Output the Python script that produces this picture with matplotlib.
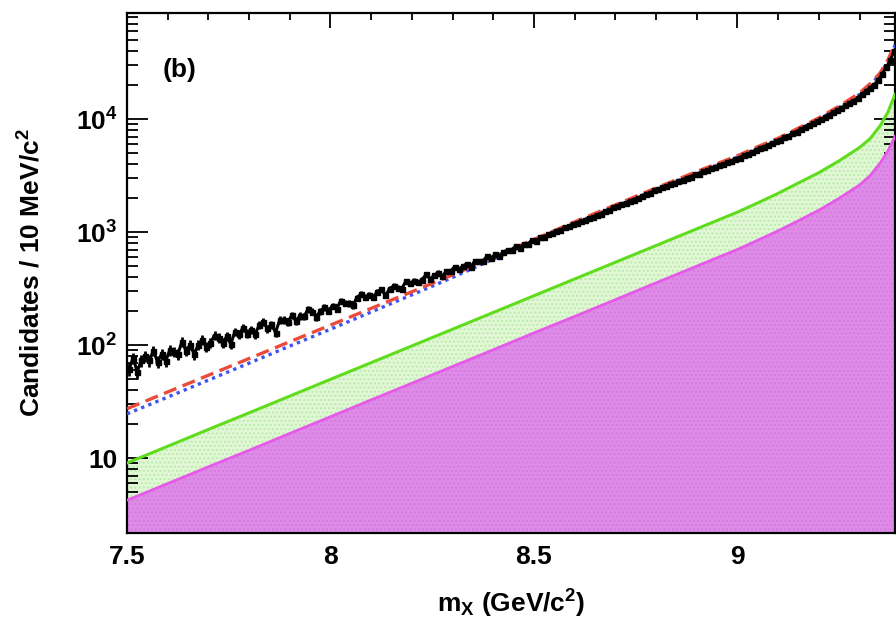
import numpy as np
import matplotlib
matplotlib.use("Agg")
import matplotlib.pyplot as plt
from matplotlib.ticker import FixedLocator, FixedFormatter, NullFormatter

plt.rcParams['font.family'] = ['Liberation Sans', 'DejaVu Sans']
plt.rcParams['font.weight'] = 'bold'
plt.rcParams['mathtext.fontset'] = 'custom'
plt.rcParams['mathtext.rm'] = 'Liberation Sans:bold'
plt.rcParams['mathtext.it'] = 'Liberation Sans:bold'
plt.rcParams['mathtext.bf'] = 'Liberation Sans:bold'
plt.rcParams['mathtext.default'] = 'regular'

# ---- data: candidates per 10 MeV bin, starting at 7.50 GeV ----
bin_lo = 7.50
bin_width = 0.01
counts = [
    61, 77, 58, 73, 80, 73, 89, 71, 83, 72,
    90, 87, 83, 107, 89, 100, 83, 100, 111, 96,
    105, 121, 116, 104, 119, 102, 131, 125, 142, 126,
    136, 125, 151, 160, 140, 152, 129, 166, 166, 161,
    183, 163, 181, 179, 208, 197, 178, 199, 216, 202,
    222, 209, 246, 237, 233, 225, 263, 283, 264, 277,
    266, 296, 311, 275, 313, 333, 320, 315, 366, 353,
    369, 358, 379, 423, 382, 417, 438, 408, 453, 452,
    492, 466, 500, 523, 491, 559, 553, 557, 613, 593,
    635, 610, 667, 693, 692, 753, 728, 780, 782, 852,
    841, 895, 906, 962, 971, 1027, 1040, 1101, 1119, 1180,
    1190, 1256, 1271, 1340, 1357, 1428, 1455, 1540, 1566, 1655,
    1684, 1774, 1805, 1895, 1931, 2018, 2063, 2172, 2221, 2338,
    2385, 2501, 2552, 2670, 2724, 2840, 2896, 3031, 3095, 3232,
    3290, 3444, 3518, 3676, 3752, 3915, 4001, 4174, 4270, 4458,
    4545, 4766, 4890, 5125, 5280, 5526, 5680, 5930, 6100, 6380,
    6570, 6900, 7120, 7480, 7745, 8130, 8420, 8835, 9170, 9640,
    9960, 10500, 10930, 11510, 11990, 12640, 13170, 13890, 14520, 15340,
    16560, 17650, 18760, 20050, 21960, 24950, 28560, 32950, 40100,
]

# ---- fit components, evaluated at these masses (GeV/c^2) ----
fit_mass = [7.50, 7.60, 7.70, 7.80, 7.90, 8.00, 8.10, 8.20, 8.30, 8.40,
            8.50, 8.60, 8.70, 8.80, 8.90, 9.00, 9.05, 9.10, 9.15, 9.20,
            9.25, 9.30, 9.325, 9.35, 9.37, 9.387]
fit_total = [27.3, 38.4, 54.0, 75.9, 107, 150, 211, 296, 417, 600,
             860, 1230, 1738, 2455, 3428, 4732, 5689, 6761, 8318, 10233,
             13032, 16982, 20417, 25410, 33500, 46500]
fit_background = [24.6, 34.6, 48.9, 69.1, 97.9, 138, 196, 278, 396, 576,
                  834, 1193, 1686, 2381, 3325, 4590, 5518, 6558, 8068, 9926,
                  12641, 16473, 19804, 24648, 32495, 45105]
fit_green = [9.04, 12.7, 17.9, 25.1, 35.3, 49.7, 69.8, 98.2, 138, 194,
             273, 384, 540, 759, 1067, 1500, 1810, 2200, 2720, 3350,
             4270, 5600, 6650, 8650, 11600, 16500]
fit_magenta = [4.23, 5.94, 8.36, 11.7, 16.5, 23.2, 32.7, 45.9, 64.6, 90.8,
               128, 179, 252, 355, 499, 701, 846, 1025, 1260, 1560,
               1990, 2610, 3130, 4050, 5250, 7000]

xticks = [7.5, 8.0, 8.5, 9.0]
xtick_labels = ['7.5', '8', '8.5', '9']
yticks = [10, 100, 1000, 10000]
ytick_labels = ['10', r'$10^{2}$', r'$10^{3}$', r'$10^{4}$']

x_range = (7.5, 9.387)
y_range = (2.17, 86700)

fig = plt.figure(figsize=(8.96, 6.22), dpi=100)
ax = fig.add_axes([127 / 896, 1 - 533 / 622, (895 - 127) / 896, (533 - 13) / 622])
ax.set_yscale('log')

ymin = y_range[0]
ax.fill_between(fit_mass, ymin, fit_green, facecolor='#e2f7d6', edgecolor='#b9ecaa',
                hatch='....', linewidth=0, zorder=1)
ax.fill_between(fit_mass, ymin, fit_magenta, facecolor='#df8ce9', edgecolor='#d67be0',
                hatch='....', linewidth=0, zorder=2)
ax.plot(fit_mass, fit_magenta, color='#e55ae8', lw=2.0, zorder=3)
ax.plot(fit_mass, fit_green, color='#5fdc1c', lw=2.2, zorder=3)
ax.plot(fit_mass, fit_background, color='#3d55f0', lw=2.4,
        linestyle=(0, (1.0, 1.3)), zorder=4)
ax.plot(fit_mass, fit_total, color='#ec4b3a', lw=2.4,
        linestyle=(0, (4, 2)), zorder=5)

counts_arr = np.array(counts, dtype=float)
centers = bin_lo + bin_width * (np.arange(len(counts_arr)) + 0.5)
ax.errorbar(centers, counts_arr, xerr=bin_width / 2, yerr=np.sqrt(counts_arr),
            fmt='s', ms=3.6, color='black', elinewidth=2.0, capsize=0, zorder=6)
ax.plot(centers, counts_arr, color='black', lw=2.2, zorder=6)

ax.set_xlim(*x_range)
ax.set_ylim(*y_range)

ax.xaxis.set_major_locator(FixedLocator(xticks))
ax.xaxis.set_major_formatter(FixedFormatter(xtick_labels))
ax.xaxis.set_minor_locator(FixedLocator(np.arange(7.5, 9.39, 0.1)))
ax.yaxis.set_major_locator(FixedLocator(yticks))
ax.yaxis.set_major_formatter(FixedFormatter(ytick_labels))
ax.yaxis.set_minor_locator(FixedLocator(
    [m * 10.0 ** e for e in range(0, 5) for m in range(2, 10) if m * 10.0 ** e < y_range[1]]))
ax.yaxis.set_minor_formatter(NullFormatter())

ax.tick_params(which='both', direction='in', top=True, right=True, width=1.3,
               labelsize=19, colors='black')
ax.tick_params(axis='x', which='major', length=11, pad=9)
ax.tick_params(axis='x', which='minor', length=5)
ax.tick_params(axis='y', which='major', length=15, pad=7)
ax.tick_params(axis='y', which='minor', length=8)
for lab in ax.get_xticklabels() + ax.get_yticklabels():
    lab.set_fontweight('bold')
for sp in ax.spines.values():
    sp.set_linewidth(1.6)

ax.set_xlabel(r'm$_{X}$ (GeV/c$^{2}$)', fontsize=19, fontweight='bold')
ax.set_ylabel(r'Candidates / 10 MeV/c$^{2}$', fontsize=19, fontweight='bold')
ax.xaxis.set_label_coords(0.5, -0.105)
ax.yaxis.set_label_coords(-0.107, 0.5)

ax.text(0.047, 0.89, '(b)', transform=ax.transAxes, fontsize=19,
        fontweight='bold', ha='left', va='center')

fig.savefig('out.png', dpi=100)
